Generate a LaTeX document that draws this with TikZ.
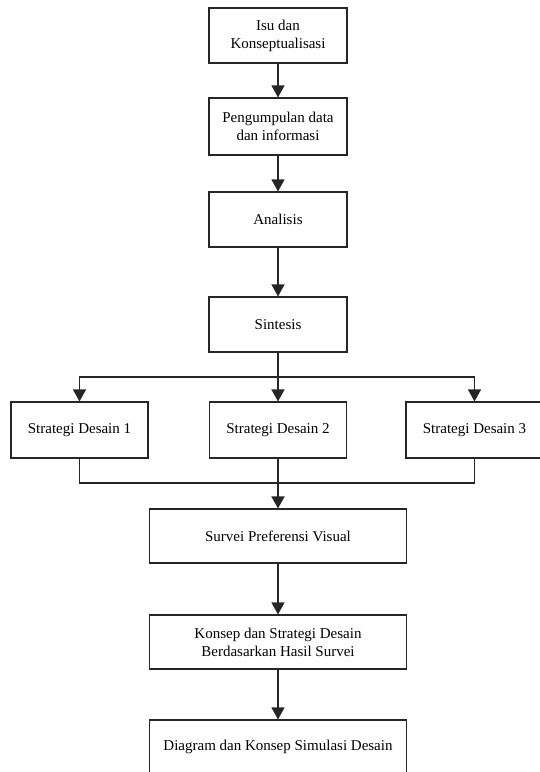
\documentclass[tikz,border=0pt]{standalone}
\usepackage{fontspec}
\setmainfont{Liberation Serif}
\usetikzlibrary{arrows.meta}
\begin{document}
\begin{tikzpicture}[x=1pt,y=-1pt,
  box/.style={draw=black!85,line width=1.1pt,fill=white,align=center,inner sep=2pt,
    font=\fontsize{15}{18}\selectfont},
  sbox/.style={box,minimum width=138pt,minimum height=55pt},
  wbox/.style={box,minimum width=257pt,minimum height=54pt},
  link/.style={line width=1.2pt,draw=black!85},
  arr/.style={link,-{Triangle[width=13pt,length=12pt]}}]
\useasboundingbox (0,0) rectangle (540,772);
\clip (0,0) rectangle (540,772);
\node[sbox] (b1) at (278,35.5) {Isu dan\\Konseptualisasi};
\node[sbox,minimum height=57pt] (b2) at (278,126.5) {Pengumpulan data\\dan informasi};
\node[sbox] (b3) at (278,219.5) {Analisis};
\node[sbox] (b4) at (278,324.5) {Sintesis};
\node[sbox,minimum width=137pt,minimum height=56pt] (s1) at (79.5,430) {Strategi Desain 1};
\node[sbox,minimum width=137pt,minimum height=56pt] (s2) at (278,430) {Strategi Desain 2};
\node[sbox,minimum width=137pt,minimum height=56pt] (s3) at (474.5,430) {Strategi Desain 3};
\node[wbox] (sv) at (278,536) {Survei Preferensi Visual};
\node[wbox] (k) at (278,642) {Konsep dan Strategi Desain\\Berdasarkan Hasil Survei};
\node[wbox] (d) at (278,747) {Diagram dan Konsep Simulasi Desain};
\coordinate (j1) at (278,377);
\coordinate (j2) at (278,483);
\draw[arr] (b1) -- (b2);
\draw[arr] (b2) -- (b3);
\draw[arr] (b3) -- (b4);
\draw[arr,line width=1.8pt] (b4) -- (s2);
\draw[arr] (j1) -| (s1.north);
\draw[arr] (j1) -| (s3.north);
\draw[link] (s1.south) |- (j2);
\draw[link] (s3.south) |- (j2);
\draw[arr,line width=1.8pt] (s2) -- (sv);
\draw[arr] (sv) -- (k);
\draw[arr] (k) -- (d);
\end{tikzpicture}
\end{document}
